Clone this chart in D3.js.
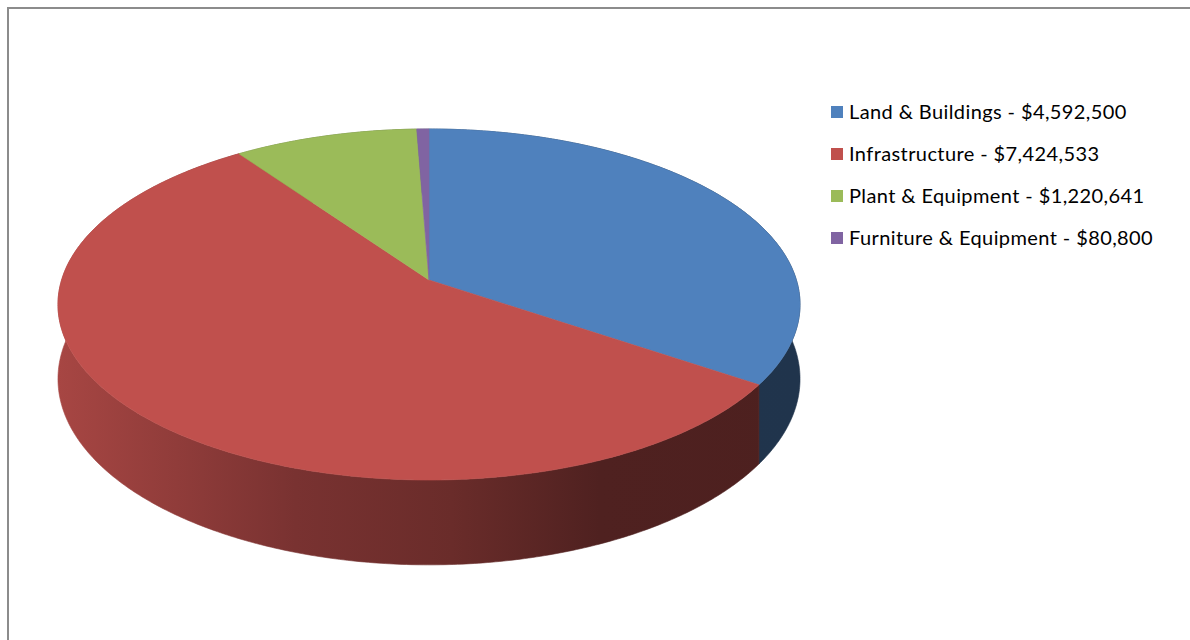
<!DOCTYPE html>
<html>
<head>
<meta charset="utf-8">
<script src="https://cdn.jsdelivr.net/npm/d3@7"></script>
<style>
  body { margin: 0; background: #fff; }
</style>
</head>
<body>
<div id="chart"></div>
<script>
// data
var categories = ["Land & Buildings", "Infrastructure", "Plant & Equipment", "Furniture & Equipment"];
var values = [4592500, 7424533, 1220641, 80800];
var labels = ["$4,592,500", "$7,424,533", "$1,220,641", "$80,800"];
var colors = ["#4f81bd", "#c0504d", "#9bbb59", "#8064a2"];

var width = 1190, height = 640;

var svg = d3.select("#chart")
    .append("svg")
    .attr("width", width)
    .attr("height", height);

// chart border
svg.append("rect")
    .attr("x", 8).attr("y", 8)
    .attr("width", 1200).attr("height", 700)
    .attr("fill", "none")
    .attr("stroke", "#8c8c8c")
    .attr("stroke-width", 2);

// perspective pie geometry
var cx = 429, cy = 280;
var b = 367.4;      // horizontal radius at centre depth
var a = -172.1;     // vertical scale
var k = 0.1396;     // perspective factor
var depth = 73;     // wall height

function proj(ang) {
    var u = Math.sin(ang), v = Math.cos(ang);
    var s = 1 / (1 + k * v);
    return { x: cx + b * u * s, y: cy + a * v * s, s: s };
}

var pie = d3.pie().sort(null).value(function(d) { return d; });
var arcs = pie(values);

// side shading gradients
var defs = svg.append("defs");
var shade = [[0, 0.87], [0.32, 0.63], [0.53, 0.55], [0.73, 0.41], [1, 0.40]];
colors.forEach(function(c, i) {
    var g = defs.append("linearGradient")
        .attr("id", "side" + i)
        .attr("gradientUnits", "userSpaceOnUse")
        .attr("x1", cx - 371).attr("x2", cx + 371)
        .attr("y1", 0).attr("y2", 0);
    var rgb = d3.rgb(c);
    shade.forEach(function(st) {
        g.append("stop")
            .attr("offset", st[0])
            .attr("stop-color", d3.rgb(rgb.r * st[1], rgb.g * st[1], rgb.b * st[1]).formatHex());
    });
});

function arcPoints(a0, a1) {
    var n = Math.max(2, Math.ceil((a1 - a0) / 0.01));
    var pts = [];
    for (var j = 0; j <= n; j++) pts.push(proj(a0 + (a1 - a0) * j / n));
    return pts;
}

// walls (back ones end up hidden under the tops)
var pieG = svg.append("g");
arcs.forEach(function(d, i) {
    var pts = arcPoints(d.startAngle, d.endAngle);
    var top = pts.map(function(p) { return [p.x, p.y]; });
    var bot = pts.map(function(p) { return [p.x, p.y + depth * p.s]; }).reverse();
    pieG.append("path")
        .attr("d", d3.line()(top.concat(bot)) + "Z")
        .attr("fill", "url(#side" + i + ")")
        .attr("stroke", "url(#side" + i + ")")
        .attr("stroke-width", 0.6);
});

// top faces
arcs.forEach(function(d, i) {
    var pts = arcPoints(d.startAngle, d.endAngle).map(function(p) { return [p.x, p.y]; });
    pts.unshift([cx, cy]);
    pieG.append("path")
        .attr("d", d3.line()(pts) + "Z")
        .attr("fill", colors[i])
        .attr("stroke", colors[i])
        .attr("stroke-width", 0.6);
});

// legend
var legend = svg.append("g").attr("transform", "translate(831,106)");
var rows = legend.selectAll("g")
    .data(categories)
    .enter()
    .append("g")
    .attr("transform", function(d, i) { return "translate(0," + (i * 42) + ")"; });
rows.append("rect")
    .attr("width", 12).attr("height", 12)
    .attr("fill", function(d, i) { return colors[i]; });
rows.append("text")
    .attr("x", 18).attr("y", 13)
    .attr("font-family", "Lato, 'Open Sans', sans-serif")
    .attr("font-size", 20)
    .attr("letter-spacing", "0.4px")
    .attr("fill", "#000")
    .text(function(d, i) { return d + " - " + labels[i]; });
</script>
</body>
</html>
